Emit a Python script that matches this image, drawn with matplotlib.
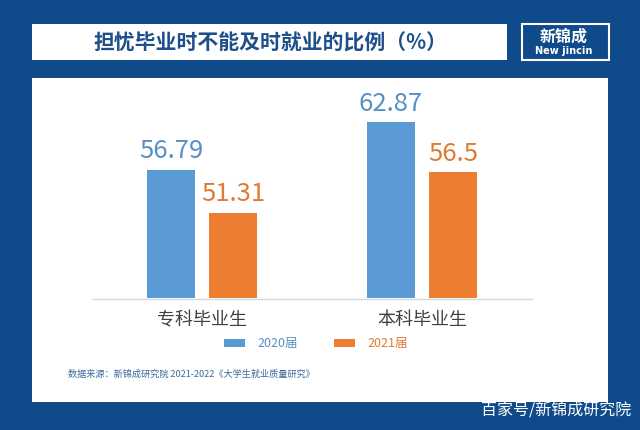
import matplotlib
matplotlib.use("Agg")
import matplotlib.pyplot as plt
from matplotlib.patches import Rectangle
import numpy as np

plt.rcParams['font.family'] = ['Noto Sans CJK SC', 'DejaVu Sans']

categories = ['专科毕业生', '本科毕业生']
series_names = ['2020届', '2021届']
values_2020 = [56.79, 62.87]
values_2021 = [51.31, 56.5]
value_labels_2020 = ['56.79', '62.87']
value_labels_2021 = ['51.31', '56.5']

title = '担忧毕业时不能及时就业的比例（%）'
source = '数据来源：新锦成研究院 2021-2022《大学生就业质量研究》'
watermark = '百家号/新锦成研究院'

W, H = 640, 430
BG = '#0f4a8b'
BLUE = '#5b9bd5'
ORANGE = '#ed7d31'
BLUE_TXT = '#5a8fc3'
ORANGE_TXT = '#e07a33'

fig = plt.figure(figsize=(W / 100, H / 100), dpi=100)
fig.patch.set_facecolor(BG)


def fx(x):
    return x / W


def fy(y):
    return 1 - y / H


def box(x0, y0, x1, y1, fc, ec='none', lw=0):
    fig.add_artist(Rectangle((fx(x0), fy(y1)), fx(x1) - fx(x0), fy(y0) - fy(y1),
                             transform=fig.transFigure, facecolor=fc,
                             edgecolor=ec, linewidth=lw, zorder=0))


# title box, logo box, main panel
box(32, 24, 507, 60, 'white')
box(521.5, 24.5, 608.5, 59.5, BG, ec='white', lw=1.5)
box(32, 78, 608, 402, 'white')

fig.text(fx(270), fy(42.5), title, ha='center', va='center', fontsize=15,
         fontweight='bold', color='#1f4f88')
fig.text(fx(563.5), fy(37), '新锦成', ha='center', va='center', fontsize=11.5,
         fontweight='bold', color='white')
fig.text(fx(563.5), fy(51), 'New jincin', ha='center', va='center', fontsize=7,
         fontweight='bold', color='white', family='DejaVu Sans')

# chart axes
ax_left, ax_right = 92, 532
ax_bottom_px = 298.5
ymin, ymax = 40.4, 65.0
px_per_unit = 7.85
ax_top_px = ax_bottom_px - (ymax - ymin) * px_per_unit
ax = fig.add_axes([fx(ax_left), fy(ax_bottom_px), fx(ax_right - ax_left),
                   fy(ax_top_px) - fy(ax_bottom_px)])
ax.set_facecolor('none')
ax.set_xlim(-0.5, 1.5)
ax.set_ylim(ymin, ymax)

x = np.arange(len(categories))
bw = 0.222
off = 0.141
b1 = ax.bar(x - off, np.array(values_2020) - ymin, bw, bottom=ymin, color=BLUE, label=series_names[0])
b2 = ax.bar(x + off, np.array(values_2021) - ymin, bw, bottom=ymin, color=ORANGE, label=series_names[1])

for xi, v, lab in zip(x - off, values_2020, value_labels_2020):
    ax.annotate(lab, (xi, v), xytext=(0, 4), textcoords='offset points',
                ha='center', va='bottom', fontsize=18.5, color=BLUE_TXT, fontweight='light')
for xi, v, lab in zip(x + off, values_2021, value_labels_2021):
    ax.annotate(lab, (xi, v), xytext=(0, 4), textcoords='offset points',
                ha='center', va='bottom', fontsize=18.5, color=ORANGE_TXT, fontweight='light')

for s in ['top', 'left', 'right']:
    ax.spines[s].set_visible(False)
ax.spines['bottom'].set_color('#d9d9d9')
ax.spines['bottom'].set_linewidth(1.0)
ax.set_yticks([])
ax.set_xticks(x)
ax.set_xticklabels(categories, fontsize=13, color='#404040')
ax.tick_params(axis='x', length=0, pad=9)

# legend
leg = fig.legend(handles=[b1, b2], labels=series_names, loc='center',
                 bbox_to_anchor=(fx(316), fy(343.5)), ncol=2, frameon=False,
                 fontsize=9, handlelength=1.7, handleheight=0.6,
                 columnspacing=2.9, handletextpad=1.0)
for t, c in zip(leg.get_texts(), [BLUE_TXT, ORANGE_TXT]):
    t.set_color(c)

fig.text(fx(68), fy(374), source, ha='left', va='center', fontsize=6.6, color='#3b6a9c')
fig.text(fx(631), fy(411.5), watermark, ha='right', va='center', fontsize=11.5,
         color='white')

fig.savefig('out.png', dpi=100, facecolor=BG)
